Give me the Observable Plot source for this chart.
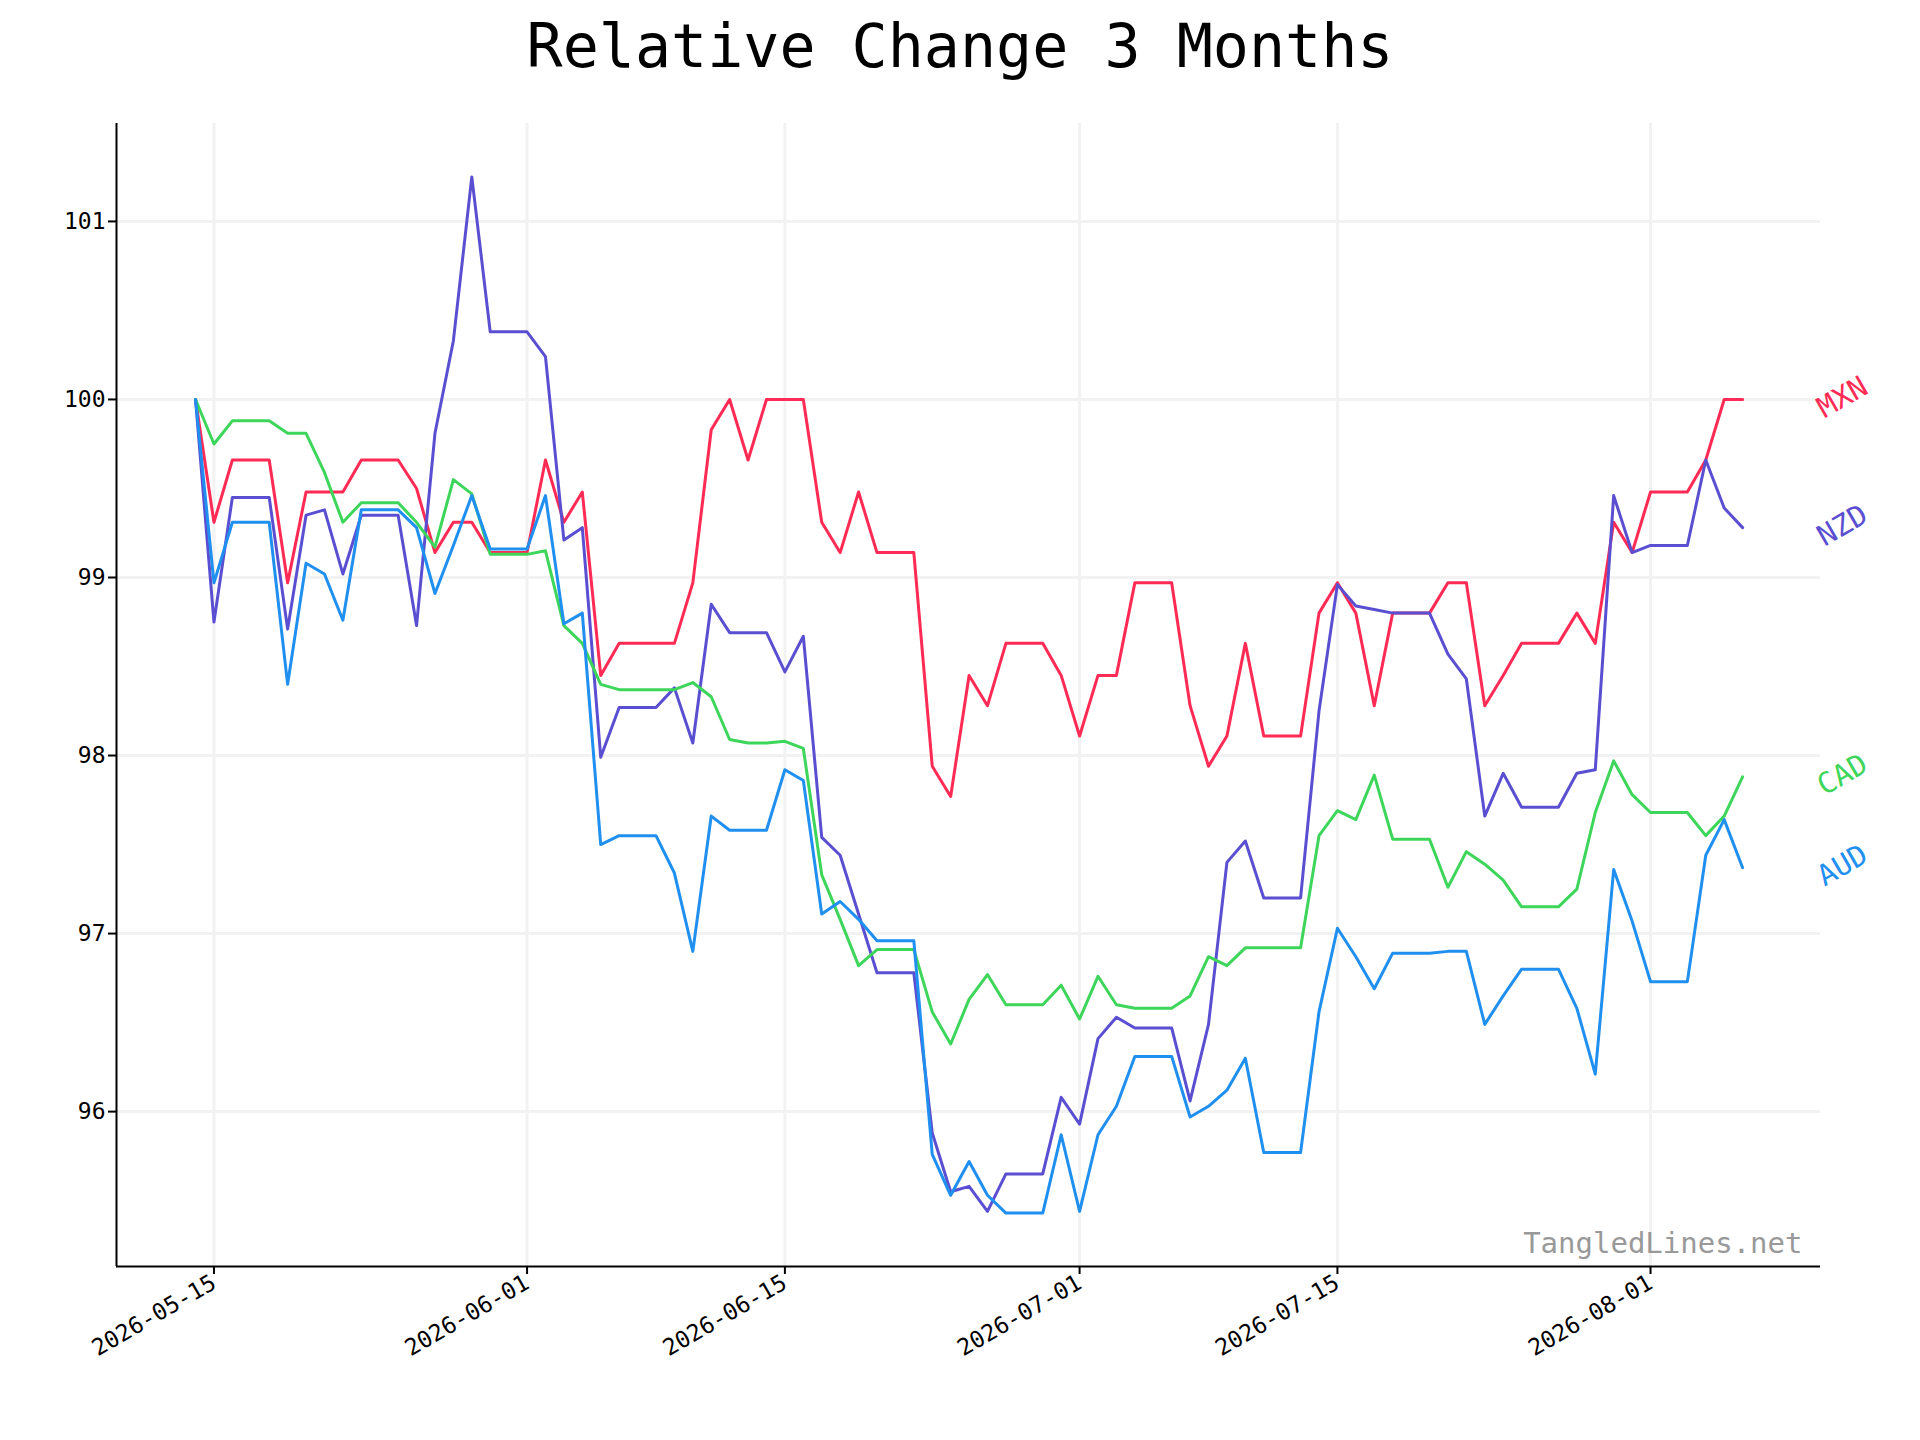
<!DOCTYPE html>
<html><head><meta charset="utf-8">
<script src="https://cdn.jsdelivr.net/npm/d3@7"></script>
<script src="https://cdn.jsdelivr.net/npm/@observablehq/plot@0.6"></script>
<style>
body{margin:0;background:#fff;font-family:"DejaVu Sans Mono",monospace;}
#title{height:110px;text-align:center;font-size:60px;line-height:92px;}
</style></head><body>
<div id="title">Relative Change 3 Months</div>
<div id="chart"></div>
<script>
const startDate = "2026-05-14";
const currencies = ["MXN","NZD","CAD","AUD"];
const colors = ["#ff2b55","#5b4fd1","#3ed65a","#1f8ff0"];
const MXN = [100,99.31,99.66,99.66,99.66,98.97,99.48,99.48,99.48,99.66,99.66,99.66,99.5,99.14,99.31,99.31,99.14,99.14,99.14,99.66,99.31,99.48,98.45,98.63,98.63,98.63,98.63,98.97,99.83,100,99.66,100,100,100,99.31,99.14,99.48,99.14,99.14,99.14,97.94,97.77,98.45,98.28,98.63,98.63,98.63,98.45,98.11,98.45,98.45,98.97,98.97,98.97,98.28,97.94,98.11,98.63,98.11,98.11,98.11,98.8,98.97,98.8,98.28,98.8,98.8,98.8,98.97,98.97,98.28,98.45,98.63,98.63,98.63,98.8,98.63,99.31,99.14,99.48,99.48,99.48,99.66,100,100];
const NZD = [100,98.75,99.45,99.45,99.45,98.71,99.35,99.38,99.02,99.35,99.35,99.35,98.73,99.81,100.33,101.25,100.38,100.38,100.38,100.24,99.21,99.28,97.99,98.27,98.27,98.27,98.38,98.07,98.85,98.69,98.69,98.69,98.47,98.67,97.54,97.44,97.11,96.78,96.78,96.78,95.88,95.55,95.58,95.44,95.65,95.65,95.65,96.08,95.93,96.41,96.53,96.47,96.47,96.47,96.06,96.49,97.4,97.52,97.2,97.2,97.2,98.25,98.96,98.84,98.82,98.8,98.8,98.8,98.57,98.43,97.66,97.9,97.71,97.71,97.71,97.9,97.92,99.46,99.14,99.18,99.18,99.18,99.66,99.39,99.28];
const CAD = [100,99.75,99.88,99.88,99.88,99.81,99.81,99.59,99.31,99.42,99.42,99.42,99.31,99.17,99.55,99.47,99.13,99.13,99.13,99.15,98.73,98.63,98.4,98.37,98.37,98.37,98.37,98.41,98.33,98.09,98.07,98.07,98.08,98.04,97.33,97.08,96.82,96.91,96.91,96.91,96.56,96.38,96.63,96.77,96.6,96.6,96.6,96.71,96.52,96.76,96.6,96.58,96.58,96.58,96.65,96.87,96.82,96.92,96.92,96.92,96.92,97.55,97.69,97.64,97.89,97.53,97.53,97.53,97.26,97.46,97.39,97.3,97.15,97.15,97.15,97.25,97.68,97.97,97.78,97.68,97.68,97.68,97.55,97.66,97.88];
const AUD = [100,98.97,99.31,99.31,99.31,98.4,99.08,99.02,98.76,99.38,99.38,99.38,99.28,98.91,99.18,99.46,99.16,99.16,99.16,99.46,98.74,98.8,97.5,97.55,97.55,97.55,97.34,96.9,97.66,97.58,97.58,97.58,97.92,97.86,97.11,97.18,97.08,96.96,96.96,96.96,95.76,95.53,95.72,95.53,95.43,95.43,95.43,95.87,95.44,95.87,96.03,96.31,96.31,96.31,95.97,96.03,96.12,96.3,95.77,95.77,95.77,96.56,97.03,96.87,96.69,96.89,96.89,96.89,96.9,96.9,96.49,96.65,96.8,96.8,96.8,96.58,96.21,97.36,97.07,96.73,96.73,96.73,97.44,97.64,97.37];
const yTicks = [96,97,98,99,100,101];
const xTicks = ["2026-05-15","2026-06-01","2026-06-15","2026-07-01","2026-07-15","2026-08-01"];

const series = {MXN, NZD, CAD, AUD};
const t0 = new Date(startDate + "T00:00:00Z");
const day = i => new Date(t0.getTime() + i*86400000);
const rows = currencies.flatMap(c => series[c].map((v,i)=>({c, date: day(i), v})));
const last = currencies.map(c => ({c, date: day(series[c].length-1), v: series[c][series[c].length-1]}));
const fmt = d3.utcFormat("%Y-%m-%d");
const xt = xTicks.map(s=>new Date(s+"T00:00:00Z"));
const x0 = new Date("2026-05-09T17:00:00Z");

const chart = Plot.plot({
  width: 1920, height: 1330,
  marginTop: 13, marginLeft: 116, marginRight: 100, marginBottom: 174,
  style: {fontFamily: "DejaVu Sans Mono, monospace", fontSize: "22px", color: "#000", background: "#fff"},
  x: {type: "utc", domain: [x0, new Date("2026-08-10T05:30:00Z")], label: null},
  y: {domain: [95.13, 101.55], label: null},
  color: {domain: currencies, range: colors},
  marks: [
    Plot.gridX(xt, {stroke: "#f2f2f2", strokeOpacity: 1, strokeWidth: 3}),
    Plot.gridY(yTicks, {stroke: "#f2f2f2", strokeOpacity: 1, strokeWidth: 3}),
    Plot.axisX({ticks: xt, tickFormat: fmt, tickRotate: -30, tickSize: 8, fontSize: 23, label: null, strokeWidth: 2}),
    Plot.axisY({ticks: yTicks, tickFormat: d => String(d), tickSize: 8, fontSize: 23, label: null, strokeWidth: 2}),
    Plot.ruleY([95.13], {stroke: "#000", strokeWidth: 2}),
    Plot.ruleX([x0], {stroke: "#000", strokeWidth: 2}),
    Plot.line(rows, {x: "date", y: "v", z: "c", stroke: "c", strokeWidth: 3}),
    Plot.text(last, {x: "date", y: "v", text: "c", fill: "c", rotate: -30, dx: 100, dy: -2, fontSize: 29, textAnchor: "middle", clip: false}),
    Plot.text(["TangledLines.net"], {frameAnchor: "bottom-right", dx: -18, dy: -14, fill: "#999", fontSize: 29})
  ]
});
document.getElementById("chart").appendChild(chart);
</script>
</body></html>
